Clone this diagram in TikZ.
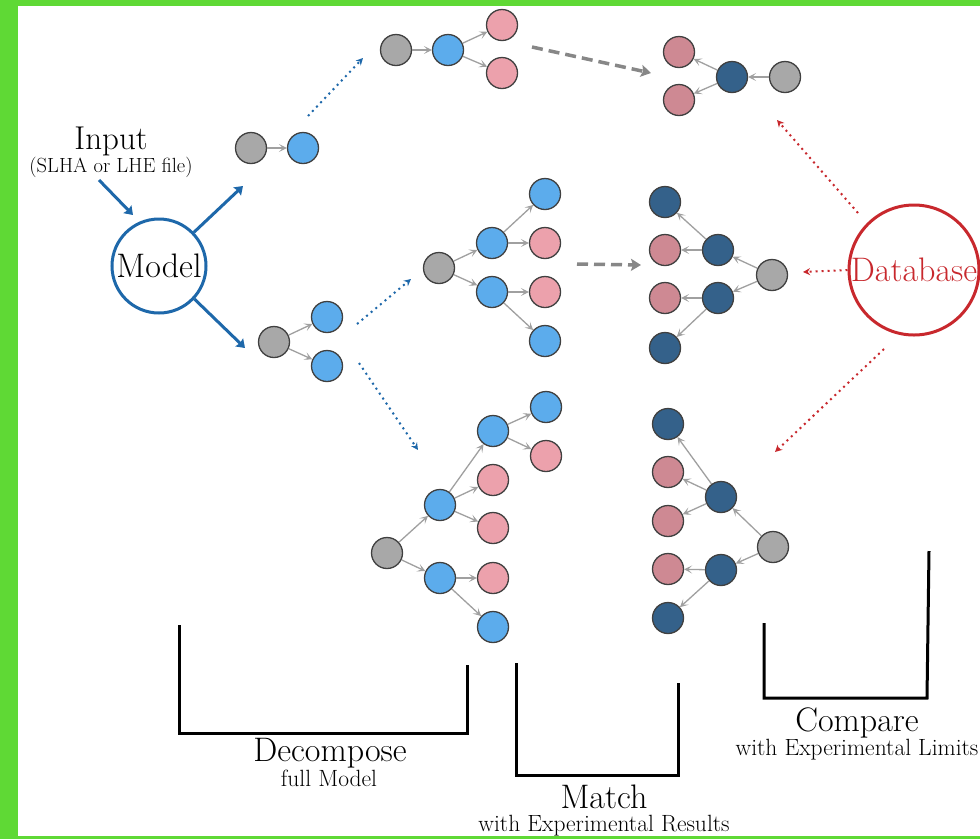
\documentclass[tikz,border=0pt]{standalone}
\usetikzlibrary{arrows.meta}
\definecolor{bgGreen}{RGB}{95,217,53}
\definecolor{cGray}{RGB}{168,168,168}
\definecolor{cBlue}{RGB}{92,172,236}
\definecolor{cPink}{RGB}{236,161,172}
\definecolor{cDark}{RGB}{52,97,138}
\definecolor{cDusty}{RGB}{206,137,147}
\definecolor{cEdge}{RGB}{160,160,160}
\definecolor{cModel}{RGB}{30,104,170}
\definecolor{cRed}{RGB}{200,40,45}
\definecolor{cDash}{RGB}{135,135,135}
\tikzset{
  pnode/.style={circle,draw=black!75,line width=1.3pt,minimum size=31pt,inner sep=0pt},
  gnode/.style={pnode,fill=cGray},
  bnode/.style={pnode,fill=cBlue},
  pknode/.style={pnode,fill=cPink},
  dnode/.style={pnode,fill=cDark},
  dpnode/.style={pnode,fill=cDusty},
  edge/.style={draw=cEdge,line width=1.3pt,-{Stealth[length=8pt,width=8pt,inset=4pt]}},
  bigarrow/.style={draw=cModel,line width=3pt,-{Stealth[length=8pt,width=11pt,inset=1pt]}},
  bdots/.style={draw=cModel,line width=2pt,dash pattern=on 2pt off 4pt,-{Stealth[length=7pt,width=7pt]}},
  rdots/.style={draw=cRed,line width=2pt,dash pattern=on 2pt off 4pt,-{Stealth[length=7pt,width=7pt]}},
  gdash/.style={draw=cDash,line width=3.5pt,dash pattern=on 11pt off 6pt,-{Stealth[length=10pt,width=12pt,inset=2pt]}},
  bracket/.style={draw=black,line width=3pt},
  bigtxt/.style={font=\fontsize{34}{40}\selectfont,inner sep=0pt},
  smalltxt/.style={font=\fontsize{23.5}{28}\selectfont,inner sep=0pt},
}
\begin{document}
\begin{tikzpicture}[x=1pt,y=-1pt]
\fill[bgGreen] (0,0) rectangle (980,839);
\fill[white] (18,6) rectangle (980,836);
\useasboundingbox (0,0) rectangle (980,839);

% Input and model
\node[font=\fontsize{33}{38}\selectfont,inner sep=0pt,anchor=base] (inp) at (111,149) {Input};
\node[font=\fontsize{20.5}{24}\selectfont,inner sep=0pt,anchor=base] (inpsub) at (111,172) {(SLHA or LHE file)};
\node[circle,draw=cModel,line width=3pt,minimum size=94pt,inner sep=0pt,font=\fontsize{34}{40}\selectfont] (model) at (159,266) {Model};
\coordinate (i1) at (99,180);
\coordinate (i2) at (133,215);
\draw[bigarrow] (i1) -- (i2);
\coordinate (m1) at (243,186);
\coordinate (m2) at (245,348);
\draw[bigarrow] (model.44) -- (m1);
\draw[bigarrow] (model.-43) -- (m2);

% small chain 1
\node[gnode] (a1) at (251,148) {};
\node[bnode] (a2) at (303,148) {};
\draw[edge] (a1) -- (a2);

% small chain 2
\node[gnode] (b1) at (274,342) {};
\node[bnode] (b2) at (327,317) {};
\node[bnode] (b3) at (327,366) {};
\draw[edge] (b1) -- (b2);
\draw[edge] (b1) -- (b3);

% blue dotted arrows
\coordinate (d1s) at (308,116); \coordinate (d1e) at (363,58);
\coordinate (d2s) at (357,324); \coordinate (d2e) at (411,279);
\coordinate (d3s) at (359,363); \coordinate (d3e) at (418,450);
\draw[bdots] (d1s) -- (d1e);
\draw[bdots] (d2s) -- (d2e);
\draw[bdots] (d3s) -- (d3e);

% top tree
\node[gnode] (t1) at (396,50) {};
\node[bnode] (t2) at (448,50) {};
\node[pknode] (t3) at (502,25) {};
\node[pknode] (t4) at (502,73) {};
\draw[edge] (t1) -- (t2);
\draw[edge] (t2) -- (t3);
\draw[edge] (t2) -- (t4);

% top match
\node[dpnode] (u1) at (679,52) {};
\node[dpnode] (u2) at (679,100) {};
\node[dnode] (u3) at (732,77) {};
\node[gnode] (u4) at (785,77) {};
\draw[edge] (u4) -- (u3);
\draw[edge] (u3) -- (u1);
\draw[edge] (u3) -- (u2);

% middle tree
\node[gnode] (m0) at (439,268) {};
\node[bnode] (mb1) at (492,243) {};
\node[bnode] (mb2) at (492,292) {};
\node[bnode] (mc1) at (545,194) {};
\node[pknode] (mc2) at (545,243) {};
\node[pknode] (mc3) at (545,292) {};
\node[bnode] (mc4) at (545,341) {};
\draw[edge] (m0) -- (mb1);
\draw[edge] (m0) -- (mb2);
\draw[edge] (mb1) -- (mc1);
\draw[edge] (mb1) -- (mc2);
\draw[edge] (mb2) -- (mc3);
\draw[edge] (mb2) -- (mc4);

% middle match
\node[dnode] (v1) at (665,202) {};
\node[dpnode] (v2) at (665,250) {};
\node[dpnode] (v3) at (665,298) {};
\node[dnode] (v4) at (665,348) {};
\node[dnode] (v5) at (718,250) {};
\node[dnode] (v6) at (718,298) {};
\node[gnode] (v7) at (772,275) {};
\draw[edge] (v7) -- (v5);
\draw[edge] (v7) -- (v6);
\draw[edge] (v5) -- (v1);
\draw[edge] (v5) -- (v2);
\draw[edge] (v6) -- (v3);
\draw[edge] (v6) -- (v4);

% bottom tree
\node[gnode] (w0) at (387,553) {};
\node[bnode] (w1) at (440,505) {};
\node[bnode] (w2) at (440,578) {};
\node[bnode] (w3) at (493,431) {};
\node[pknode] (w4) at (493,480) {};
\node[pknode] (w5) at (493,528) {};
\node[pknode] (w6) at (493,578) {};
\node[bnode] (w7) at (493,627) {};
\node[bnode] (w8) at (546,407) {};
\node[pknode] (w9) at (546,456) {};
\draw[edge] (w0) -- (w1);
\draw[edge] (w0) -- (w2);
\draw[edge] (w1) -- (w3);
\draw[edge] (w1) -- (w4);
\draw[edge] (w1) -- (w5);
\draw[edge] (w3) -- (w8);
\draw[edge] (w3) -- (w9);
\draw[edge] (w2) -- (w6);
\draw[edge] (w2) -- (w7);

% bottom match
\node[dnode] (x1) at (668,424) {};
\node[dpnode] (x2) at (668,472) {};
\node[dpnode] (x3) at (668,521) {};
\node[dpnode] (x4) at (668,569) {};
\node[dnode] (x5) at (668,618) {};
\node[dnode] (x6) at (721,497) {};
\node[dnode] (x7) at (721,570) {};
\node[gnode] (x8) at (773,547) {};
\draw[edge] (x8) -- (x6);
\draw[edge] (x8) -- (x7);
\draw[edge] (x6) -- (x1);
\draw[edge] (x6) -- (x2);
\draw[edge] (x6) -- (x3);
\draw[edge] (x7) -- (x4);
\draw[edge] (x7) -- (x5);

% gray dashed arrows
\coordinate (g1s) at (532,47); \coordinate (g1e) at (651,73);
\coordinate (g2s) at (577,264); \coordinate (g2e) at (641,265);
\draw[gdash] (g1s) -- (g1e);
\draw[gdash] (g2s) -- (g2e);

% database
\node[circle,draw=cRed,line width=3pt,minimum size=130pt,inner sep=0pt,text=cRed,font=\fontsize{34}{40}\selectfont] (db) at (914,270) {Database};
\coordinate (r1s) at (858,213);
\coordinate (r1) at (777,120);
\coordinate (r2) at (803,272);
\coordinate (r3s) at (884,349);
\coordinate (r3) at (775,452);
\draw[rdots] (r1s) -- (r1);
\draw[rdots] (db.west) -- (r2);
\draw[rdots] (r3s) -- (r3);

% brackets
\coordinate (k1) at (179,625); \coordinate (k2) at (179,733); \coordinate (k3) at (467,733); \coordinate (k4) at (467,665);
\draw[bracket] (k1) -- (k2) -- (k3) -- (k4);
\coordinate (k5) at (516,663); \coordinate (k6) at (516,775); \coordinate (k7) at (678,775); \coordinate (k8) at (678,683);
\draw[bracket] (k5) -- (k6) -- (k7) -- (k8);
\coordinate (k9) at (764,623); \coordinate (k10) at (764,698); \coordinate (k11) at (927,698); \coordinate (k12) at (929,551);
\draw[bracket] (k9) -- (k10) -- (k11) -- (k12);

% labels
\node[bigtxt,anchor=base] (l1) at (330,761) {Decompose};
\node[smalltxt,anchor=base] (l1s) at (329,786) {full Model};
\node[bigtxt,anchor=base] (l2) at (604,808) {Match};
\node[smalltxt,anchor=base] (l2s) at (604,831) {with Experimental Results};
\node[bigtxt,anchor=base] (l3) at (857,731) {Compare};
\node[smalltxt,anchor=base] (l3s) at (857,755) {with Experimental Limits};
\end{tikzpicture}
\end{document}
